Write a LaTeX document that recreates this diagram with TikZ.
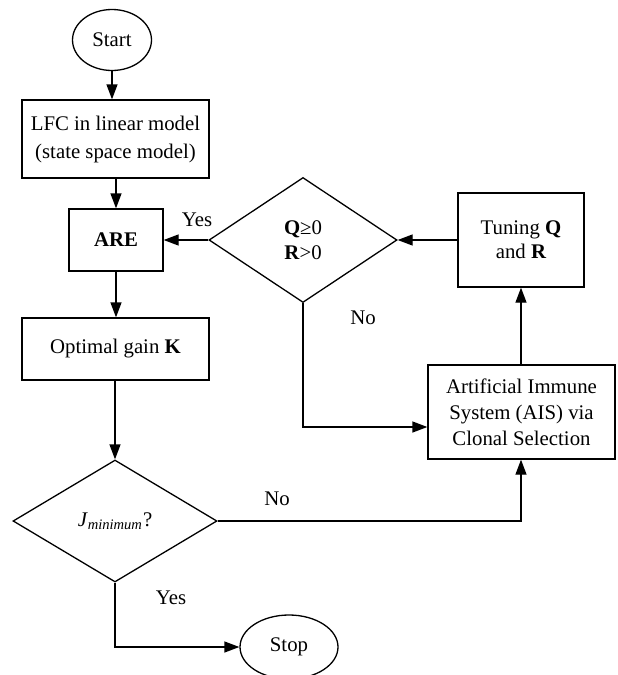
\documentclass[tikz,border=0pt]{standalone}
\usepackage{fontspec}
\setmainfont{Liberation Serif}
\usetikzlibrary{shapes.geometric,arrows.meta}
\begin{document}
\begin{tikzpicture}[x=0.5pt,y=-0.5pt,
  every node/.style={font=\fontsize{10.4}{13}\selectfont},
  box/.style={draw,line width=0.65pt,rectangle,inner sep=0pt,align=center},
  oval/.style={draw,line width=0.65pt,ellipse,inner sep=0pt},
  decision/.style={draw,line width=0.65pt,diamond,inner sep=0pt,aspect=1.5,align=center},
  conn/.style={line width=0.65pt,-{Triangle[length=7.5pt,width=5.5pt]}},
  lbl/.style={inner sep=0pt}]
\useasboundingbox (0,0) rectangle (617,675);
\clip (0,0) rectangle (617,675);
\node[oval,minimum width=39.5pt,minimum height=30.5pt] (start) at (112,40) {Start};
\node[box,minimum width=93.5pt,minimum height=39pt,font=\fontsize{10.4}{14}\selectfont] (lfc) at (115.5,139) {LFC in linear model\\(state space model)};
\node[box,minimum width=47pt,minimum height=31pt] (are) at (116,240) {\textbf{ARE}};
\node[box,minimum width=93.5pt,minimum height=31pt] (opt) at (115.5,349) {Optimal gain \textbf{K}};
\node[decision,minimum width=94pt,minimum height=62.5pt,font=\fontsize{10.4}{12.5}\selectfont] (qr) at (303,240) {\textbf{Q}≥0\\\textbf{R}>0};
\node[box,minimum width=63pt,minimum height=47pt,font=\fontsize{10.4}{11.8}\selectfont] (tune) at (521,240) {Tuning \textbf{Q}\\and \textbf{R}};
\node[box,minimum width=93.5pt,minimum height=47pt] (ais) at (521.5,412) {Artificial Immune\\System (AIS) via\\Clonal Selection};
\node[decision,minimum width=102pt,minimum height=61pt] (jmin) at (115,521) {\textit{J}\textsubscript{\textit{minimum}}?};
\node[oval,minimum width=49pt,minimum height=32pt] (stop) at (289,647) {Stop};

\coordinate (c1) at (303,427);
\coordinate (c2) at (521,521);
\coordinate (c3) at (115,647);

\draw[conn] (start.south) -- (start.south |- lfc.north);
\draw[conn] (lfc.south -| are.north) -- (are.north);
\draw[conn] (are.south) -- (are.south |- opt.north);
\draw[conn] (opt.south -| jmin.north) -- (jmin.north);
\draw[conn] (qr.west) -- (are.east);
\draw[conn] (tune.west) -- (qr.east);
\draw[conn] (ais.north -| tune.south) -- (tune.south);
\draw[conn] (qr.south) -- (c1) -- (c1 -| ais.west);
\draw[conn] (jmin.east) -- (c2) -- (c2 |- ais.south);
\draw[conn] (jmin.south) -- (c3) -- (stop.west);

\node[lbl] at (197,220) {Yes};
\node[lbl] at (363,318) {No};
\node[lbl] at (277,499) {No};
\node[lbl] at (171,598) {Yes};
\end{tikzpicture}
\end{document}
